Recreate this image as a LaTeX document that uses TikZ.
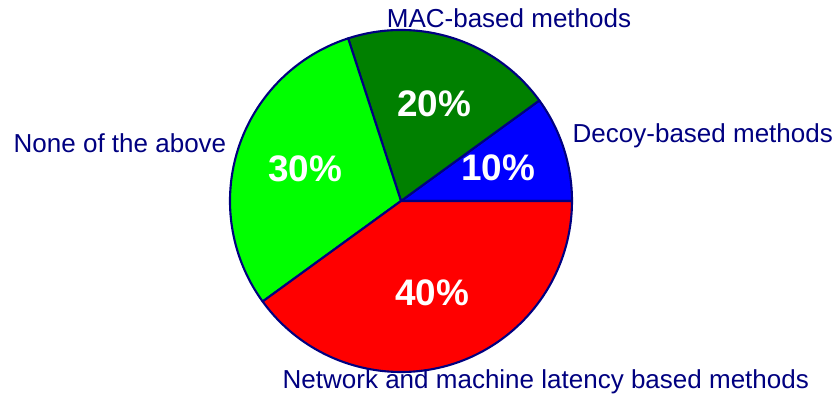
\documentclass[tikz,border=0pt]{standalone}
\usepackage{fontspec}
\setmainfont{Liberation Sans}
\usepackage{tikz}
\usepackage{xcolor}
\definecolor{navylab}{HTML}{000080}
\definecolor{macgreen}{HTML}{008000}
\definecolor{nonegreen}{HTML}{00FF00}

\begin{document}
\begin{tikzpicture}[line join=round,
  slice/.style={draw=navylab,line width=0.6pt},
  pct/.style={text=white,font=\fontsize{10.5}{12}\selectfont\bfseries,inner sep=0pt},
  lab/.style={text=navylab,font=\fontsize{7.4}{9}\selectfont,inner sep=0pt}]
\useasboundingbox (0,0) rectangle (8.33,4.01);
\coordinate (c) at (4.01,2.00);
% slices, counter-clockwise from the right
\filldraw[slice,fill=blue] (c) -- ++(0:1.71) arc (0:36:1.71) -- cycle;
\filldraw[slice,fill=macgreen] (c) -- ++(36:1.71) arc (36:108:1.71) -- cycle;
\filldraw[slice,fill=nonegreen] (c) -- ++(108:1.71) arc (108:216:1.71) -- cycle;
\filldraw[slice,fill=red] (c) -- ++(216:1.71) arc (216:360:1.71) -- cycle;
% percentages
\node[pct] (p10) at (4.98,2.33) {10\%};
\node[pct] (p20) at (4.34,2.97) {20\%};
\node[pct] (p30) at (3.05,2.32) {30\%};
\node[pct] (p40) at (4.32,1.08) {40\%};
% labels
\node[lab,anchor=base] (mac) at (5.09,3.73) {MAC-based methods};
\node[lab,anchor=base west] (decoy) at (5.72,2.58) {Decoy-based methods};
\node[lab,anchor=base west] (none) at (0.13,2.48) {None of the above};
\node[lab,anchor=base west] (net) at (2.82,0.12) {Network and machine latency based methods};
\end{tikzpicture}
\end{document}
